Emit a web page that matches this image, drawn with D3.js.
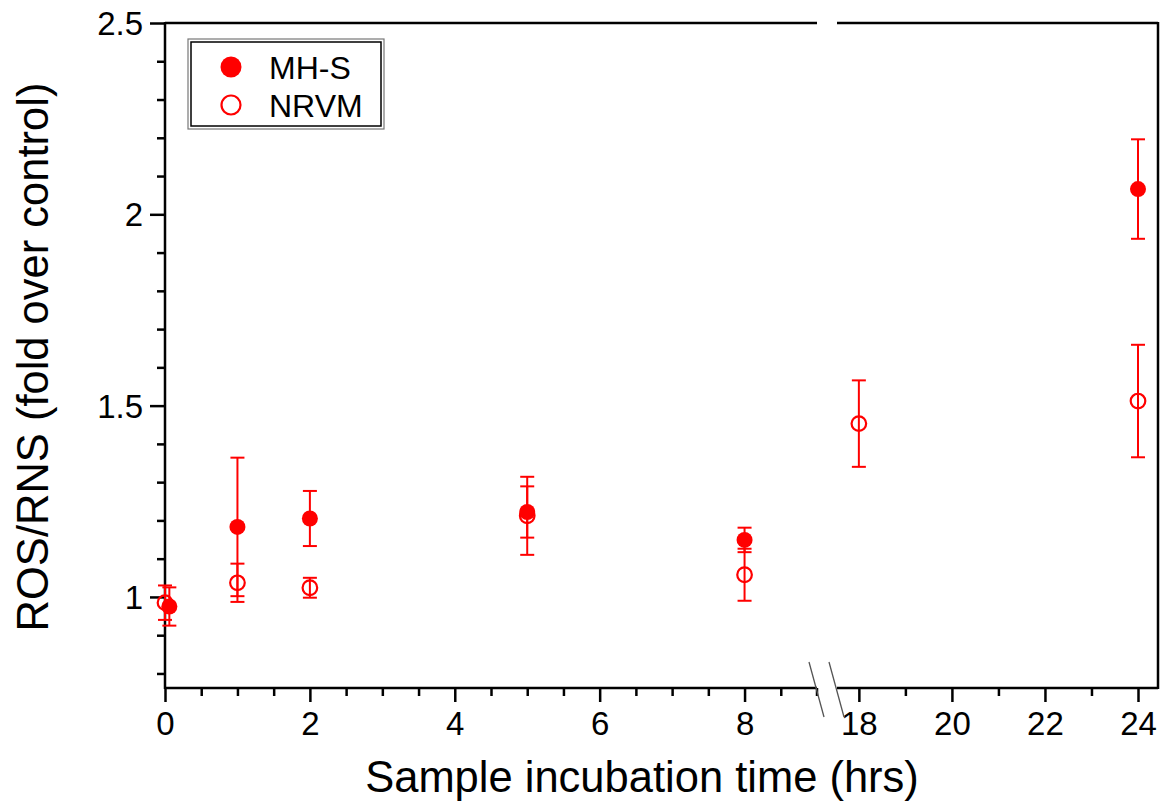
<!DOCTYPE html>
<html><head><meta charset="utf-8">
<script src="https://cdn.jsdelivr.net/npm/d3@7"></script>
<style>body{margin:0;background:#fff}svg{display:block}text{font-family:"Liberation Sans",Arial,sans-serif}</style>
</head><body><svg id="c" width="1162" height="806"></svg>
<script>
// Data
const seriesNames = ["MH-S", "NRVM"];
const mhsTime = [0.06, 1, 2, 5, 8, 24];
const mhsValue = [0.975, 1.183, 1.205, 1.222, 1.149, 2.066];
const mhsErr = [0.05, 0.181, 0.072, 0.067, 0.032, 0.13];
const nrvmTime = [0, 1, 2, 5, 8, 18, 24];
const nrvmValue = [0.985, 1.037, 1.024, 1.212, 1.058, 1.453, 1.512];
const nrvmErr = [0.045, 0.05, 0.026, 0.102, 0.068, 0.113, 0.147];
const xTicksLeft = [0, 2, 4, 6, 8];
const xTicksRight = [18, 20, 22, 24];
const yTicks = [1, 1.5, 2, 2.5];

const svg = d3.select("#c");
const L = 165, R = 1158, T = 23, B = 688;
const brkL = 817, brkR = 837;
const red = "#ff0000";

const xl = d3.scaleLinear().domain([0, 9]).range([L, brkL]);
const xr = d3.scaleLinear().domain([17.53, 24.43]).range([brkR, R]);
const xs = t => t <= 10 ? xl(t) : xr(t);
const y = d3.scaleLinear().domain([0.762, 2.5]).range([B, T]);

// Frame
const g = svg.append("g").attr("stroke", "#000").attr("stroke-width", 2.5).attr("fill", "none");
g.append("line").attr("x1", L).attr("x2", L).attr("y1", T - 1).attr("y2", B + 1);
g.append("line").attr("x1", R).attr("x2", R).attr("y1", T - 1).attr("y2", B + 1);
g.append("line").attr("x1", L).attr("x2", brkL).attr("y1", T).attr("y2", T);
g.append("line").attr("x1", brkR).attr("x2", R).attr("y1", T).attr("y2", T);

// Y axis
const yAxis = d3.axisLeft(y).tickValues(yTicks).tickSize(15).tickFormat(d => d3.format("")(d));
const ya = svg.append("g").attr("transform", `translate(${L},0)`).call(yAxis);
ya.select(".domain").remove();
ya.selectAll(".tick line").attr("stroke-width", 2.5);
ya.selectAll(".tick text").attr("font-size", 33).attr("fill", "#000").attr("x", -22).attr("dy", "0.35em");
const yMinor = d3.range(0.8, 2.5, 0.1).filter(v => !yTicks.some(t => Math.abs(t - v) < 1e-6));
svg.append("g").attr("transform", `translate(${L},0)`)
  .call(d3.axisLeft(y).tickValues(yMinor).tickSize(8).tickFormat(""))
  .call(s => { s.select(".domain").remove(); s.selectAll(".tick line").attr("stroke-width", 2.5); });

// X axes (two segments)
function xseg(scale, ticks, minor, x0, x1) {
  const a = svg.append("g").attr("transform", `translate(0,${B})`)
    .call(d3.axisBottom(scale).tickValues(ticks).tickSize(14).tickFormat(d3.format("d")));
  a.select(".domain").remove();
  a.selectAll(".tick line").attr("stroke-width", 2.5);
  a.selectAll(".tick text").attr("font-size", 33).attr("fill", "#000").attr("y", 24);
  svg.append("g").attr("transform", `translate(0,${B})`)
    .call(d3.axisBottom(scale).tickValues(minor).tickSize(8).tickFormat(""))
    .call(s => { s.select(".domain").remove(); s.selectAll(".tick line").attr("stroke-width", 2.5); });
  svg.append("line").attr("x1", x0).attr("x2", x1).attr("y1", B).attr("y2", B)
    .attr("stroke", "#000").attr("stroke-width", 2.5);
}
xseg(xl, xTicksLeft, [0.5, 1, 1.5, 2.5, 3, 3.5, 4.5, 5, 5.5, 6.5, 7, 7.5, 8.5], L, brkL);
xseg(xr, xTicksRight, [19, 21, 23], brkR, R);
// end tick of left segment
svg.append("line").attr("x1", brkL).attr("x2", brkL).attr("y1", B).attr("y2", B + 8)
  .attr("stroke", "#000").attr("stroke-width", 2.5);
// break marks
[[809, 824], [829, 844]].forEach(([a, b]) => {
  svg.append("line").attr("x1", a).attr("y1", 662).attr("x2", b).attr("y2", 717)
    .attr("stroke", "#555").attr("stroke-width", 1.3);
});

// Data
function drawSeries(ts, vs, es, filled) {
  const gg = svg.append("g");
  ts.forEach((t, i) => {
    const cx = xs(t), v = vs[i], e = es[i];
    gg.append("line").attr("x1", cx).attr("x2", cx).attr("y1", y(v + e)).attr("y2", y(v - e))
      .attr("stroke", red).attr("stroke-width", 2);
    [v + e, v - e].forEach(w => gg.append("line").attr("x1", cx - 7).attr("x2", cx + 7)
      .attr("y1", y(w)).attr("y2", y(w)).attr("stroke", red).attr("stroke-width", 2));
    gg.append("circle").attr("cx", cx).attr("cy", y(v)).attr("r", filled ? 8 : 7.3)
      .attr("fill", filled ? red : "none").attr("stroke", red).attr("stroke-width", filled ? 0 : 2.2);
  });
}
drawSeries(nrvmTime, nrvmValue, nrvmErr, false);
drawSeries(mhsTime, mhsValue, mhsErr, true);

// Legend
const lg = svg.append("g");
lg.append("rect").attr("x", 188).attr("y", 39).attr("width", 196).attr("height", 90)
  .attr("fill", "#fff").attr("stroke", "#777").attr("stroke-width", 1.2);
lg.append("rect").attr("x", 191).attr("y", 42).attr("width", 190).attr("height", 84)
  .attr("fill", "none").attr("stroke", "#000").attr("stroke-width", 1.5);
seriesNames.forEach((n, i) => {
  const cy = 67 + i * 38;
  lg.append("circle").attr("cx", 231).attr("cy", cy).attr("r", filled(i) ? 10.5 : 9.5)
    .attr("fill", filled(i) ? red : "none").attr("stroke", red).attr("stroke-width", filled(i) ? 0 : 2.2);
  lg.append("text").attr("x", 269).attr("y", cy).attr("dy", "0.36em").attr("font-size", 32).text(n);
});
function filled(i) { return i === 0; }

// Titles
svg.append("text").attr("x", 642).attr("y", 792).attr("text-anchor", "middle")
  .attr("font-size", 43.5).text("Sample incubation time (hrs)");
svg.append("text").attr("transform", "translate(48,357) rotate(-90)").attr("text-anchor", "middle")
  .attr("font-size", 43.5).text("ROS/RNS (fold over control)");
</script></body></html>
